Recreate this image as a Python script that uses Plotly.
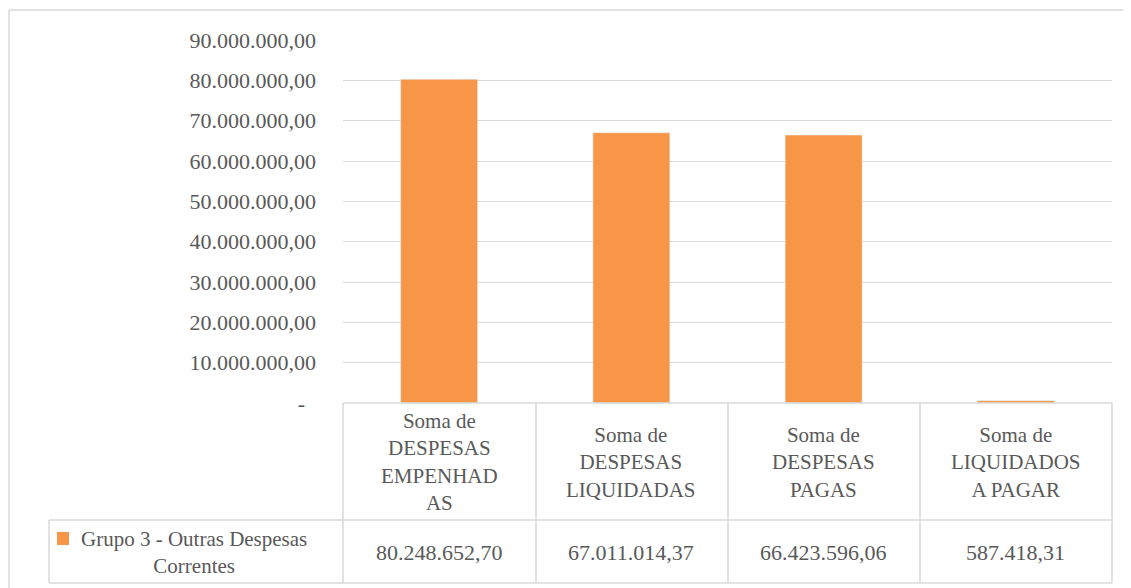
import plotly.graph_objects as go

# data
categorias = ["Soma de<br>DESPESAS<br>EMPENHAD<br>AS",
              "Soma de<br>DESPESAS<br>LIQUIDADAS",
              "Soma de<br>DESPESAS<br>PAGAS",
              "Soma de<br>LIQUIDADOS<br>A PAGAR"]
valores = [80248652.70, 67011014.37, 66423596.06, 587418.31]
serie = "Grupo 3 - Outras Despesas<br>Correntes"
eixo_y = [0, 10e6, 20e6, 30e6, 40e6, 50e6, 60e6, 70e6, 80e6, 90e6]
titulo = "Comparativo de despesas"

laranja = "#F79646"
cinza = "#595959"
linha = "#D9D9D9"
fonte = "Liberation Serif"


def br(v):
    s = f"{v:,.2f}"
    return s.replace(",", "X").replace(".", ",").replace("X", ".")


ticks_txt = [" -\u00a0\u00a0" if v == 0 else br(v) for v in eixo_y]

# the page puts the figure 8px in from the corner
OFF = 8
W, H = 1131 - OFF, 588 - OFF
# plot area in page pixels
L, R, T, B = 343, 1112, 40, 403


def px(x):
    return (x - L) / (R - L)


def py(y):
    return (B - y) / (B - T)


fig = go.Figure()
fig.add_trace(go.Bar(x=categorias, y=valores, marker_color=laranja, width=0.4,
                     name=serie, showlegend=False))

fig.update_layout(
    width=W, height=H,
    margin=dict(l=L - OFF, r=W - (R - OFF), t=T - OFF, b=H - (B - OFF)),
    paper_bgcolor="white", plot_bgcolor="white",
    font=dict(family=fonte, color=cinza, size=22),
)
fig.update_yaxes(range=[0, 90e6], tickvals=eixo_y, ticktext=ticks_txt,
                 showgrid=True, gridcolor=linha, gridwidth=1.3, zeroline=False,
                 ticks="", ticklabelstandoff=26, tickfont=dict(size=22, color=cinza))
fig.update_xaxes(showticklabels=False, showgrid=False, zeroline=False, ticks="")

shapes = []


def hline(y, x0, x1):
    shapes.append(dict(type="line", xref="paper", yref="paper",
                       x0=px(x0), x1=px(x1), y0=py(y), y1=py(y),
                       line=dict(color=linha, width=1.5)))


def vline(x, y0, y1):
    shapes.append(dict(type="line", xref="paper", yref="paper",
                       x0=px(x), x1=px(x), y0=py(y0), y1=py(y1),
                       line=dict(color=linha, width=1.5)))


# outer chart border
hline(10, 9, 1140)
vline(9, 10, 600)

# data table
hline(403, 343, 1112)
hline(520, 49, 1112)
hline(583, 49, 1112)
for xv in [343, 536, 728, 920, 1112]:
    vline(xv, 403, 583)
vline(49, 520, 583)

# legend key
shapes.append(dict(type="rect", xref="paper", yref="paper",
                   x0=px(57), x1=px(69), y0=py(545), y1=py(532),
                   fillcolor=laranja, line=dict(width=0)))
fig.update_layout(shapes=shapes)

for c, v in zip(categorias, valores):
    fig.add_annotation(x=c, xref="x", y=py(462), yref="paper", text=c,
                       showarrow=False, align="center", xanchor="center",
                       yanchor="middle", font=dict(size=21, color=cinza, family=fonte))
    fig.add_annotation(x=c, xref="x", y=py(552), yref="paper", text=br(v),
                       showarrow=False, xanchor="center", yanchor="middle",
                       font=dict(size=22, color=cinza, family=fonte))

fig.add_annotation(x=px(194), xref="paper", y=py(552), yref="paper", text=serie,
                   showarrow=False, align="center", xanchor="center", yanchor="middle",
                   font=dict(size=21, color=cinza, family=fonte))

# title (mostly cut off at the top of the picture)
fig.add_annotation(x=px(584), xref="paper", y=py(-4), yref="paper",
                   text="<b>" + titulo + "</b>", showarrow=False,
                   xanchor="center", yanchor="middle",
                   font=dict(size=20, color="black", family=fonte))

fig.write_html("out.html")
